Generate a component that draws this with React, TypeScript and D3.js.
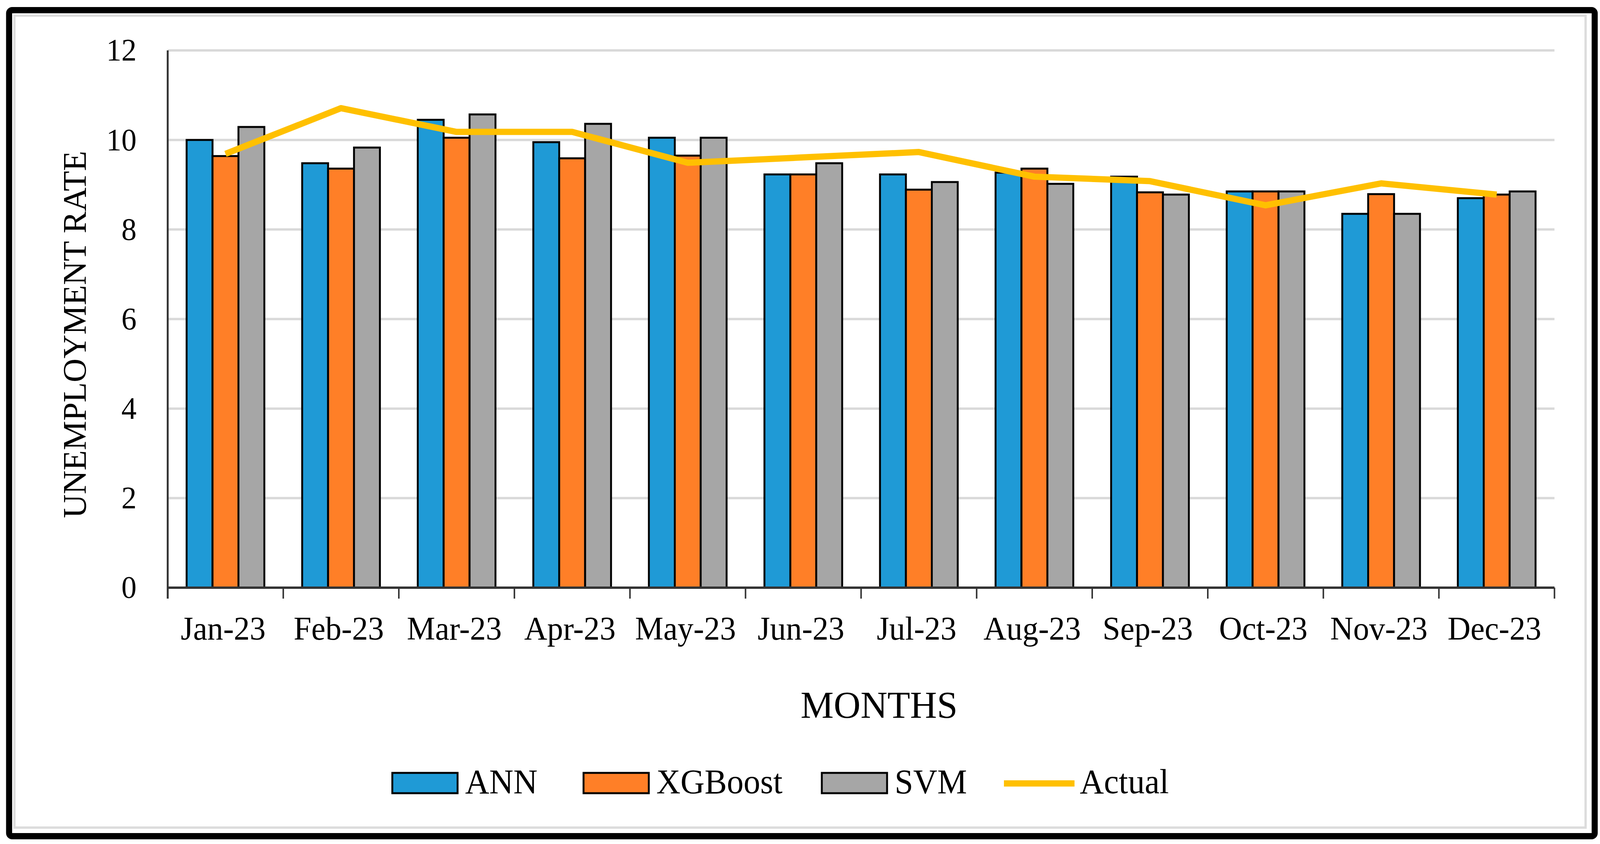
import React, { useEffect, useRef } from 'react';
import * as d3 from 'd3';

// values
const months = ['Jan-23', 'Feb-23', 'Mar-23', 'Apr-23', 'May-23', 'Jun-23', 'Jul-23', 'Aug-23', 'Sep-23', 'Oct-23', 'Nov-23', 'Dec-23'];
const annValues = [10.0, 9.48, 10.45, 9.95, 10.05, 9.23, 9.23, 9.27, 9.18, 8.85, 8.35, 8.7];
const xgbValues = [9.64, 9.36, 10.05, 9.59, 9.65, 9.23, 8.89, 9.36, 8.83, 8.85, 8.79, 8.78];
const svmValues = [10.29, 9.83, 10.57, 10.36, 10.05, 9.48, 9.06, 9.02, 8.78, 8.85, 8.35, 8.85];
const actualValues = [9.69, 10.71, 10.18, 10.18, 9.49, 9.61, 9.73, 9.18, 9.08, 8.54, 9.03, 8.78];
const yTicks = [0, 2, 4, 6, 8, 10, 12];
const barSeries = ['ANN', 'XGBoost', 'SVM'];
const lineSeries = 'Actual';

const colors: Record<string, string> = {
  ANN: '#1F9AD6',
  XGBoost: '#FF7F27',
  SVM: '#A6A6A6',
  Actual: '#FFC000',
};

const W = 4217;
const H = 2160;
const FONT = '"Liberation Serif", "Times New Roman", serif';

const Chart: React.FC = () => {
  const svgRef = useRef<SVGSVGElement>(null);

  useEffect(() => {
    document.body.style.margin = '0';
    document.body.style.overflow = 'hidden';
    document.documentElement.style.overflow = 'hidden';
  }, []);

  useEffect(() => {
    if (!svgRef.current) return;
    const svg = d3.select(svgRef.current);
    svg.selectAll('*').remove();

    const plot = { left: 442, right: 4097, top: 129, bottom: 1504 };

    // outer frame
    svg.append('rect')
      .attr('x', 0).attr('y', 0).attr('width', W).attr('height', H)
      .attr('fill', '#ffffff');
    svg.append('rect')
      .attr('x', 38).attr('y', 40).attr('width', W - 76).attr('height', H - 82)
      .attr('fill', 'none').attr('stroke', '#dcdcdc').attr('stroke-width', 6);
    svg.append('rect')
      .attr('x', 24).attr('y', 26).attr('width', W - 38).attr('height', H - 46)
      .attr('rx', 8)
      .attr('fill', 'none').attr('stroke', '#000').attr('stroke-width', 16);

    const x0 = d3.scaleBand<string>()
      .domain(months)
      .range([plot.left, plot.right])
      .padding(0);

    const x1 = d3.scaleBand<string>()
      .domain(barSeries)
      .range([0, x0.step()])
      .paddingInner(0)
      .paddingOuter(0.73);

    const y = d3.scaleLinear()
      .domain([0, 12])
      .range([plot.bottom, plot.top]);

    // gridlines
    svg.append('g')
      .selectAll('line')
      .data(yTicks.filter(t => t > 0))
      .enter().append('line')
        .attr('x1', plot.left).attr('x2', plot.right)
        .attr('y1', d => y(d)).attr('y2', d => y(d))
        .attr('stroke', '#d9d9d9').attr('stroke-width', 6);

    // bars
    const valuesBySeries: Record<string, number[]> = {
      ANN: annValues,
      XGBoost: xgbValues,
      SVM: svmValues,
    };
    const rows = months.map((m, i) => ({
      month: m,
      items: barSeries.map(s => ({ key: s, value: valuesBySeries[s][i] })),
    }));

    svg.append('g')
      .selectAll('g')
      .data(rows)
      .enter().append('g')
        .attr('transform', d => `translate(${x0(d.month)},0)`)
      .selectAll('rect')
      .data(d => d.items)
      .enter().append('rect')
        .attr('x', d => x1(d.key) || 0)
        .attr('y', d => y(d.value))
        .attr('width', x1.bandwidth())
        .attr('height', d => y(0) - y(d.value))
        .attr('fill', d => colors[d.key])
        .attr('stroke', '#000')
        .attr('stroke-width', 5);

    // actual line
    const line = d3.line<number>()
      .x((_, i) => (x0(months[i]) || 0) + x0.bandwidth() / 2)
      .y(d => y(d));

    svg.append('path')
      .datum(actualValues)
      .attr('d', line)
      .attr('fill', 'none')
      .attr('stroke', colors.Actual)
      .attr('stroke-width', 16)
      .attr('stroke-linejoin', 'round');

    // axes
    svg.append('line')
      .attr('x1', plot.left).attr('x2', plot.left)
      .attr('y1', plot.top).attr('y2', plot.bottom + 28)
      .attr('stroke', '#333').attr('stroke-width', 5);

    svg.append('line')
      .attr('x1', plot.left).attr('x2', plot.right)
      .attr('y1', plot.bottom).attr('y2', plot.bottom)
      .attr('stroke', '#333').attr('stroke-width', 6);

    const tickPos = months.map(m => x0(m) || 0).concat([plot.right]);
    svg.append('g')
      .selectAll('line')
      .data(tickPos)
      .enter().append('line')
        .attr('x1', d => d).attr('x2', d => d)
        .attr('y1', plot.bottom).attr('y2', plot.bottom + 28)
        .attr('stroke', '#333').attr('stroke-width', 4);

    // y tick labels
    svg.append('g')
      .selectAll('text')
      .data(yTicks)
      .enter().append('text')
        .attr('x', 360)
        .attr('y', d => y(d))
        .attr('dy', '0.33em')
        .attr('text-anchor', 'end')
        .attr('font-family', FONT)
        .attr('font-size', 80)
        .attr('fill', '#000')
        .text(d => d);

    // x tick labels
    svg.append('g')
      .selectAll('text')
      .data(months)
      .enter().append('text')
        .attr('x', d => (x0(d) || 0) + x0.bandwidth() / 2 - 6)
        .attr('y', 1637)
        .attr('text-anchor', 'middle')
        .attr('font-family', FONT)
        .attr('font-size', 84)
        .attr('fill', '#000')
        .text(d => d);

    // axis titles
    svg.append('text')
      .attr('x', 2317).attr('y', 1837)
      .attr('text-anchor', 'middle')
      .attr('font-family', FONT)
      .attr('font-size', 98)
      .text('MONTHS');

    svg.append('text')
      .attr('transform', 'translate(226,856) rotate(-90)')
      .attr('text-anchor', 'middle')
      .attr('font-family', FONT)
      .attr('font-size', 88)
      .attr('textLength', 940)
      .attr('lengthAdjust', 'spacingAndGlyphs')
      .text('UNEMPLOYMENT RATE');

    // legend
    const legendKeys = [...barSeries, lineSeries];
    const legendX = [1034, 1538, 2166, 2646];
    const legend = svg.append('g')
      .selectAll('g')
      .data(legendKeys)
      .enter().append('g')
        .attr('transform', (_, i) => `translate(${legendX[i]},1978)`);

    legend.filter(d => d !== lineSeries).append('rect')
      .attr('x', 0).attr('y', 0)
      .attr('width', 172).attr('height', 52)
      .attr('fill', d => colors[d])
      .attr('stroke', '#000')
      .attr('stroke-width', 5);

    legend.filter(d => d === lineSeries).append('line')
      .attr('x1', 0).attr('x2', 186)
      .attr('y1', 27).attr('y2', 27)
      .attr('stroke', colors.Actual)
      .attr('stroke-width', 16);

    legend.append('text')
      .attr('x', d => (d === lineSeries ? 200 : 192))
      .attr('y', 52)
      .attr('font-family', FONT)
      .attr('font-size', 88)
      .attr('fill', '#000')
      .text(d => d);
  }, []);

  return (
    <svg
      ref={svgRef}
      viewBox={`0 0 ${W} ${H}`}
      preserveAspectRatio="none"
      style={{ position: 'fixed', left: 0, top: 0, width: '100vw', height: '100vh', display: 'block' }}
    />
  );
};

export default function App() {
  return <Chart />;
}
